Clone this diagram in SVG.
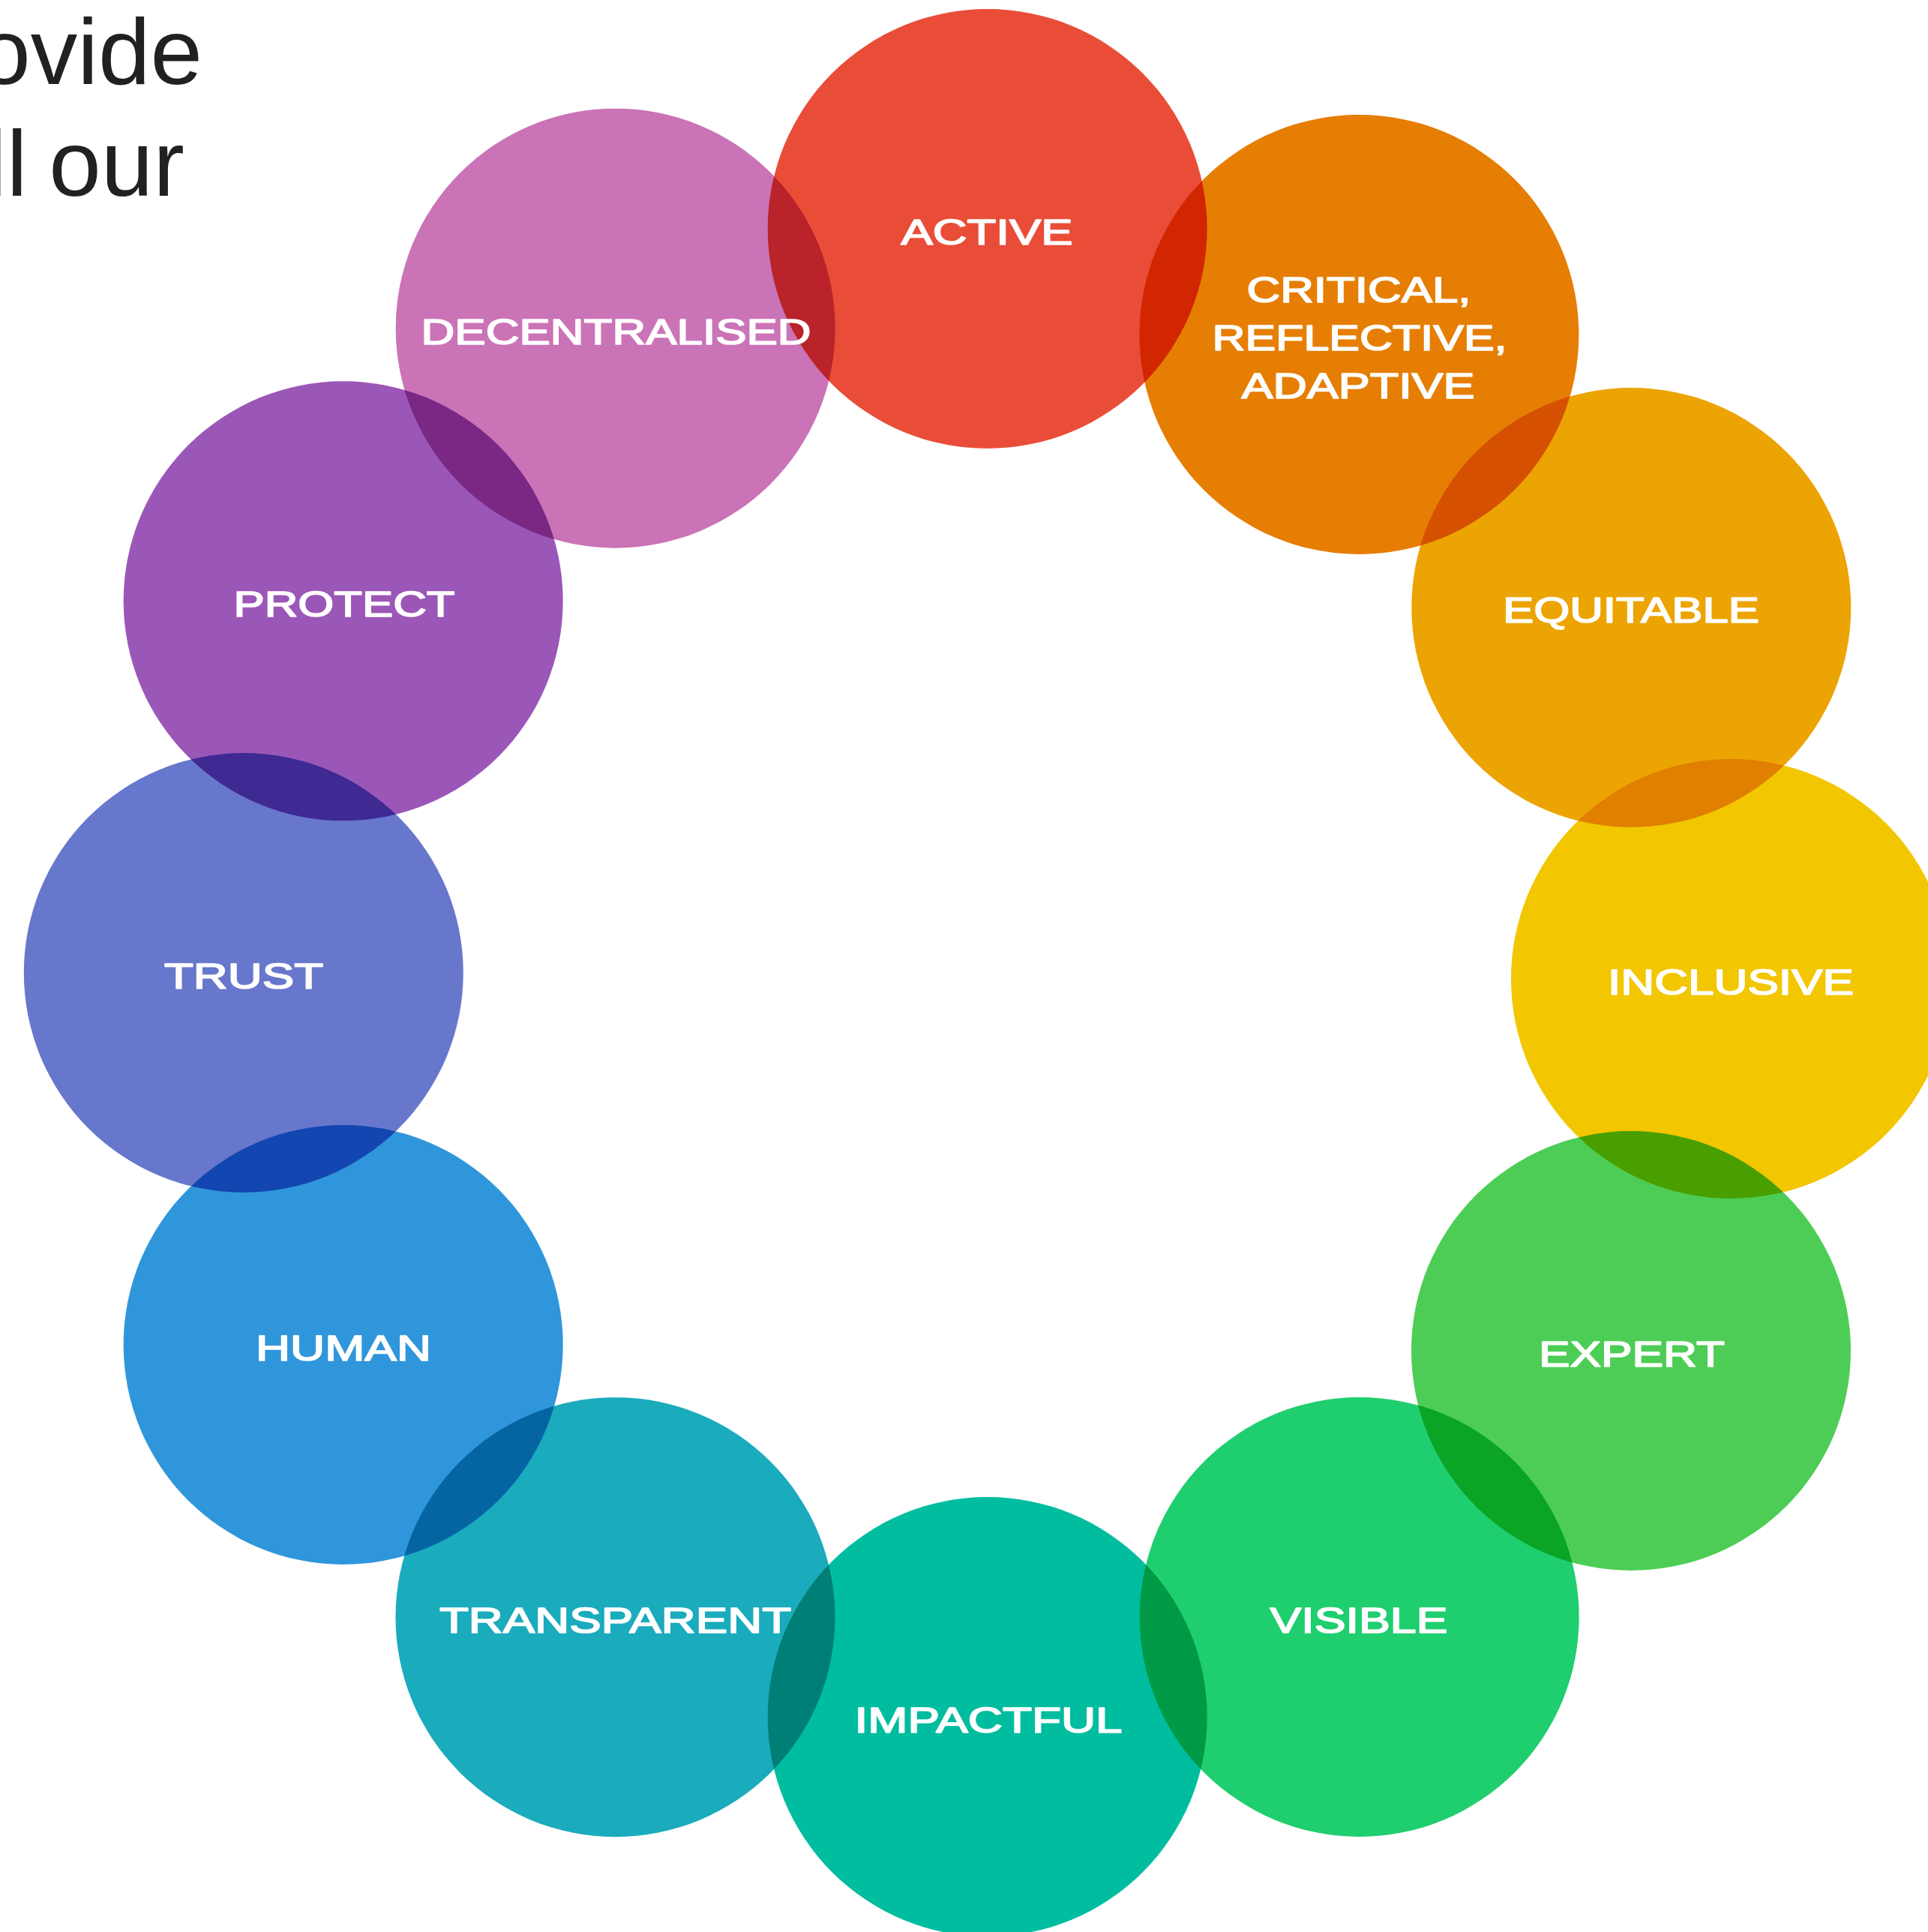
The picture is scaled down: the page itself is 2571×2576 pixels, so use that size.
<svg xmlns="http://www.w3.org/2000/svg" width="2571" height="2576" viewBox="0 0 2571 2576">
  <style>
    .disc { mix-blend-mode: multiply; }
    .label { font-family: "Liberation Sans", Arial, sans-serif; font-size: 48.5px; fill: #ffffff; stroke: #ffffff; stroke-width: 1.7px; stroke-linejoin: round; text-anchor: middle; }
    .heading { font-family: "Liberation Sans", Arial, sans-serif; font-size: 125px; fill: #212121; text-anchor: end; }
  </style>
  <rect width="2571" height="2576" fill="#ffffff"/>

  <!-- intro copy, running off the left edge -->
  <g id="intro">
    <text class="heading" x="270" y="112">ovide</text>
    <text class="heading" x="246" y="261" word-spacing="-6">ll our</text>
  </g>

  <!-- ring of principles; discs multiply where they overlap -->
  <g id="node-active">
    <circle class="disc" cx="1316.7" cy="305" r="293" fill="#E94D38"/>
    <text class="label" x="1316" y="326" textLength="229" lengthAdjust="spacingAndGlyphs">ACTIVE</text>
  </g>
  <g id="node-critical">
    <circle class="disc" cx="1812.4" cy="446" r="293" fill="#E67E04"/>
    <text class="label" x="1812" y="403" textLength="299" lengthAdjust="spacingAndGlyphs">CRITICAL,</text>
    <text class="label" x="1813" y="467" textLength="393" lengthAdjust="spacingAndGlyphs">REFLECTIVE,</text>
    <text class="label" x="1811" y="531" textLength="311" lengthAdjust="spacingAndGlyphs">ADAPTIVE</text>
  </g>
  <g id="node-equitable">
    <circle class="disc" cx="2175.3" cy="810" r="293" fill="#ECA403"/>
    <text class="label" x="2175" y="830" textLength="342" lengthAdjust="spacingAndGlyphs">EQUITABLE</text>
  </g>
  <g id="node-inclusive">
    <circle class="disc" cx="2308" cy="1305" r="293" fill="#F2C600"/>
    <text class="label" x="2308" y="1326" textLength="328" lengthAdjust="spacingAndGlyphs">INCLUSIVE</text>
  </g>
  <g id="node-expert">
    <circle class="disc" cx="2175" cy="1801" r="293" fill="#4DCD55"/>
    <text class="label" x="2176" y="1822" textLength="248" lengthAdjust="spacingAndGlyphs">EXPERT</text>
  </g>
  <g id="node-visible">
    <circle class="disc" cx="1812.7" cy="2156" r="293" fill="#1FCE6E"/>
    <text class="label" x="1812" y="2177" textLength="237" lengthAdjust="spacingAndGlyphs">VISIBLE</text>
  </g>
  <g id="node-impactful">
    <circle class="disc" cx="1316.7" cy="2289" r="293" fill="#00BD9F"/>
    <text class="label" x="1318" y="2310" textLength="357" lengthAdjust="spacingAndGlyphs">IMPACTFUL</text>
  </g>
  <g id="node-transparent">
    <circle class="disc" cx="820.5" cy="2156.2" r="293" fill="#1AABBD"/>
    <text class="label" x="820.5" y="2177" textLength="469" lengthAdjust="spacingAndGlyphs">TRANSPARENT</text>
  </g>
  <g id="node-human">
    <circle class="disc" cx="457.7" cy="1793" r="293" fill="#2F96DC"/>
    <text class="label" x="458" y="1814" textLength="234" lengthAdjust="spacingAndGlyphs">HUMAN</text>
  </g>
  <g id="node-trust">
    <circle class="disc" cx="324.8" cy="1297" r="293" fill="#6777CC"/>
    <text class="label" x="325" y="1318" textLength="212" lengthAdjust="spacingAndGlyphs">TRUST</text>
  </g>
  <g id="node-protect">
    <circle class="disc" cx="457.7" cy="801.3" r="293" fill="#9B57B8"/>
    <text class="label" x="459" y="822" textLength="295" lengthAdjust="spacingAndGlyphs">PROTECT</text>
  </g>
  <g id="node-decentralised">
    <circle class="disc" cx="820.7" cy="437.7" r="293" fill="#CB73B7"/>
    <text class="label" x="821.6" y="459" textLength="520" lengthAdjust="spacingAndGlyphs">DECENTRALISED</text>
  </g>
</svg>
